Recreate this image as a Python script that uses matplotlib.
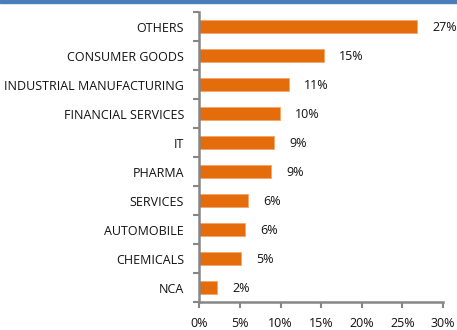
import matplotlib
matplotlib.use('Agg')
import matplotlib.pyplot as plt
import numpy as np
from matplotlib.patches import Rectangle

sectors = ['OTHERS', 'CONSUMER GOODS', 'INDUSTRIAL MANUFACTURING', 'FINANCIAL SERVICES',
           'IT', 'PHARMA', 'SERVICES', 'AUTOMOBILE', 'CHEMICALS', 'NCA']
share = [26.8, 15.3, 11.0, 9.9, 9.2, 8.8, 6.0, 5.6, 5.1, 2.2]
xticks = [0, 5, 10, 15, 20, 25, 30]

plt.rcParams['font.family'] = ['Open Sans', 'DejaVu Sans']
fs = 9

fig = plt.figure(figsize=(4.57, 3.30), dpi=100)
ax = fig.add_axes([0.4365, 0.0848, 0.9694 - 0.4365, 0.9636 - 0.0848])

pos = np.arange(len(sectors))
ax.barh(pos, share, height=0.42, color='#E46C0A', edgecolor='#F4A46A', linewidth=0.6)

for p, v in zip(pos, share):
    ax.annotate('%d%%' % round(v), xy=(v, p), xytext=(11, -1), textcoords='offset points',
                va='center', ha='left', fontsize=fs, color='#111111', annotation_clip=False)

ax.set_ylim(len(sectors) - 0.5, -0.5)
ax.set_xlim(0, 30)
ax.set_yticks(pos)
ax.set_yticklabels(sectors, fontsize=fs, color='#111111')
ax.set_yticks(np.arange(len(sectors) + 1) - 0.5, minor=True)
ax.tick_params(axis='y', which='major', length=0, pad=11)
ax.tick_params(axis='y', which='minor', length=4, width=1.5, color='#868686', direction='out')
ax.set_xticks(xticks)
ax.set_xticklabels(['%d%%' % t for t in xticks], fontsize=fs, color='#111111')
ax.tick_params(axis='x', length=4, width=1.5, color='#868686', pad=7)

for s in ['top', 'right']:
    ax.spines[s].set_visible(False)
for s in ['left', 'bottom']:
    ax.spines[s].set_color('#868686')
    ax.spines[s].set_linewidth(1.8)

# thin blue band along the top edge
fig.patches.append(Rectangle((0, 1 - 3 / 330), 1, 3 / 330, transform=fig.transFigure,
                             color='#4A7EBB', zorder=5))

fig.savefig('out.png', dpi=100)
